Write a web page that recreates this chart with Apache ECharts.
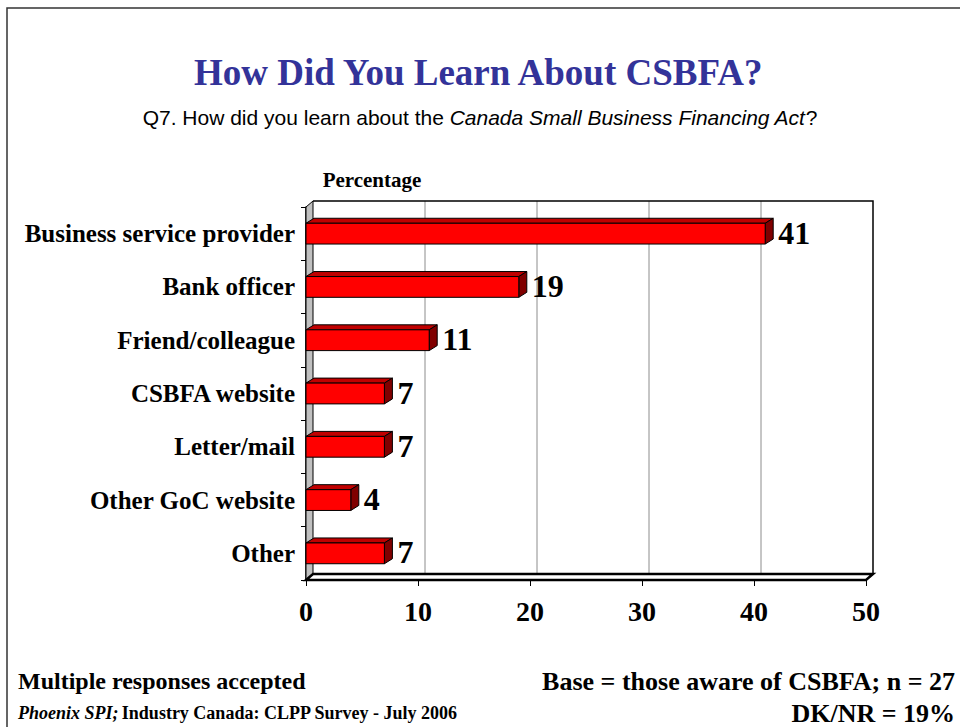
<!DOCTYPE html>
<html>
<head>
<meta charset="utf-8">
<title>How Did You Learn About CSBFA?</title>
<script src="https://cdn.jsdelivr.net/npm/echarts@6/dist/echarts.min.js"></script>
<style>
  html, body { margin: 0; padding: 0; background: #fff; }
  #chart { width: 960px; height: 727px; }
</style>
</head>
<body>
<div id="chart"></div>
<script>
// Survey responses (percent of respondents aware of CSBFA)
const categories = [
  'Business service provider',
  'Bank officer',
  'Friend/colleague',
  'CSBFA website',
  'Letter/mail',
  'Other GoC website',
  'Other'
];
const percentages = [41, 19, 11, 7, 7, 4, 7];
const xTicks = [0, 10, 20, 30, 40, 50];

const SERIF = '"Liberation Serif", "Times New Roman", Times, serif';
const SANS = '"Liberation Sans", Arial, Helvetica, sans-serif';

// depth offsets for the pseudo-3D look
const WALL_DX = 7, WALL_DY = -6;
const BAR_DX = 8, BAR_DY = -5;

const chart = echarts.init(document.getElementById('chart'), null, { renderer: 'svg' });

function bandEdges(api) {
  const band = api.size([0, 1])[1];
  const first = api.coord([0, 0]);
  const last = api.coord([0, categories.length - 1]);
  return { top: first[1] - band / 2, bottom: last[1] + band / 2, band: band };
}

// back wall, left wall and floor
function renderFrame(params, api) {
  const e = bandEdges(api);
  const x0 = api.coord([xTicks[0], 0])[0];
  const x1 = api.coord([xTicks[xTicks.length - 1], 0])[0];
  const children = [];
  // back wall fill
  children.push({
    type: 'rect',
    shape: { x: x0 + WALL_DX, y: e.top + WALL_DY, width: x1 - x0, height: e.bottom - e.top },
    style: { fill: '#ffffff', stroke: null }
  });
  // back gridlines and their floor diagonals
  xTicks.forEach(function (t, idx) {
    if (idx === 0 || idx === xTicks.length - 1) return;
    const x = api.coord([t, 0])[0];
    children.push({
      type: 'line',
      shape: { x1: x + WALL_DX, y1: e.top + WALL_DY, x2: x + WALL_DX, y2: e.bottom + WALL_DY },
      style: { stroke: '#8c8c8c', lineWidth: 1 }
    });
    children.push({
      type: 'line',
      shape: { x1: x, y1: e.bottom, x2: x + WALL_DX, y2: e.bottom + WALL_DY },
      style: { stroke: '#8c8c8c', lineWidth: 1 }
    });
  });
  // back wall top and right border
  children.push({
    type: 'polyline',
    shape: { points: [[x0 + WALL_DX, e.top + WALL_DY], [x1 + WALL_DX, e.top + WALL_DY], [x1 + WALL_DX, e.bottom + WALL_DY]] },
    style: { stroke: '#000', lineWidth: 1.5, fill: null }
  });
  // left wall
  children.push({
    type: 'polygon',
    shape: { points: [[x0, e.top], [x0 + WALL_DX, e.top + WALL_DY], [x0 + WALL_DX, e.bottom + WALL_DY], [x0, e.bottom]] },
    style: { fill: '#c0c0c0', stroke: '#000', lineWidth: 1 }
  });
  // floor
  children.push({
    type: 'polygon',
    shape: { points: [[x0, e.bottom], [x0 + WALL_DX, e.bottom + WALL_DY], [x1 + WALL_DX, e.bottom + WALL_DY], [x1, e.bottom]] },
    style: { fill: '#ffffff', stroke: '#000', lineWidth: 2.5 }
  });
  return { type: 'group', children: children };
}

// one 3D bar with its value label
function renderBar(params, api) {
  const value = api.value(0);
  const cat = api.value(1);
  const p0 = api.coord([0, cat]);
  const p1 = api.coord([value, cat]);
  const h = api.size([0, 1])[1] * 0.39;
  const x0 = p0[0], x1 = p1[0];
  const y0 = p0[1] - h / 2, y1 = p0[1] + h / 2;
  const lineStyle = { stroke: '#000', lineWidth: 1 };
  return {
    type: 'group',
    children: [
      {
        type: 'polygon',
        shape: { points: [[x0, y0], [x0 + BAR_DX, y0 + BAR_DY], [x1 + BAR_DX, y0 + BAR_DY], [x1, y0]] },
        style: Object.assign({ fill: '#c00000' }, lineStyle)
      },
      {
        type: 'polygon',
        shape: { points: [[x1, y0], [x1 + BAR_DX, y0 + BAR_DY], [x1 + BAR_DX, y1 + BAR_DY], [x1, y1]] },
        style: Object.assign({ fill: '#800000' }, lineStyle)
      },
      {
        type: 'rect',
        shape: { x: x0, y: y0, width: x1 - x0, height: h },
        style: Object.assign({ fill: '#ff0000' }, lineStyle)
      },
      {
        type: 'text',
        style: {
          text: String(value),
          x: x1 + BAR_DX + 5,
          y: p0[1] - 1,
          align: 'left',
          verticalAlign: 'middle',
          font: 'bold 32px ' + SERIF,
          fill: '#000'
        }
      }
    ]
  };
}

const option = {
  backgroundColor: '#ffffff',
  animation: false,
  grid: { left: 306, right: 94, top: 207, bottom: 147 },
  xAxis: {
    type: 'value',
    min: xTicks[0],
    max: xTicks[xTicks.length - 1],
    interval: 10,
    axisLine: { show: false },
    axisTick: { show: true, length: 6, lineStyle: { color: '#000', width: 1 } },
    splitLine: { show: false },
    axisLabel: {
      margin: 17,
      color: '#000',
      fontFamily: SERIF,
      fontWeight: 'bold',
      fontSize: 28
    }
  },
  yAxis: {
    type: 'category',
    inverse: true,
    data: categories,
    axisLine: { show: true, lineStyle: { color: '#000', width: 1.5 } },
    axisTick: { show: true, length: 5, lineStyle: { color: '#000', width: 1 } },
    axisLabel: {
      margin: 11,
      color: '#000',
      fontFamily: SERIF,
      fontWeight: 'bold',
      fontSize: 25
    }
  },
  series: [
    {
      type: 'custom',
      name: 'frame',
      z: 1,
      silent: true,
      renderItem: renderFrame,
      data: [[0, 0]]
    },
    {
      type: 'custom',
      name: 'Percentage',
      z: 5,
      renderItem: renderBar,
      encode: { x: 0, y: 1 },
      data: percentages.map(function (v, i) { return [v, i]; })
    }
  ],
  graphic: [
    {
      type: 'rect',
      shape: { x: 7, y: 8, width: 1000, height: 1000 },
      style: { fill: null, stroke: '#333', lineWidth: 1.5 },
      z: 100
    },
    {
      type: 'text',
      left: 'center',
      top: 54,
      style: {
        text: 'How Did You Learn About CSBFA?',
        font: 'bold 37px ' + SERIF,
        fill: '#333399',
        textShadowColor: 'rgba(0,0,0,0.25)',
        textShadowOffsetX: 2,
        textShadowOffsetY: 2,
        textShadowBlur: 0
      }
    },
    {
      type: 'text',
      left: 'center',
      top: 107,
      style: {
        text: '{n|Q7. How did you learn about the }{i|Canada Small Business Financing Act}{n|?}',
        rich: {
          n: { font: '21px ' + SANS, fill: '#000' },
          i: { font: 'italic 21px ' + SANS, fill: '#000' }
        }
      }
    },
    {
      type: 'text',
      x: 372,
      y: 180,
      style: {
        text: 'Percentage',
        font: 'bold 21px ' + SERIF,
        fill: '#000',
        align: 'center',
        verticalAlign: 'middle'
      }
    },
    {
      type: 'text',
      x: 18,
      y: 681,
      style: {
        text: 'Multiple responses accepted',
        font: 'bold 24px ' + SERIF,
        fill: '#000',
        align: 'left',
        verticalAlign: 'middle'
      }
    },
    {
      type: 'text',
      x: 18,
      y: 713,
      style: {
        text: '{it|Phoenix SPI;} {b|Industry Canada: CLPP Survey - July 2006}',
        align: 'left',
        verticalAlign: 'middle',
        rich: {
          it: { font: 'italic bold 18px ' + SERIF, fill: '#000' },
          b: { font: 'bold 18px ' + SERIF, fill: '#000' }
        }
      }
    },
    {
      type: 'text',
      x: 955,
      y: 681,
      style: {
        text: 'Base = those aware of CSBFA; n = 27',
        font: 'bold 26px ' + SERIF,
        fill: '#000',
        align: 'right',
        verticalAlign: 'middle'
      }
    },
    {
      type: 'text',
      x: 955,
      y: 713,
      style: {
        text: 'DK/NR = 19%',
        font: 'bold 26px ' + SERIF,
        fill: '#000',
        align: 'right',
        verticalAlign: 'middle'
      }
    }
  ]
};

chart.setOption(option);
</script>
</body>
</html>
